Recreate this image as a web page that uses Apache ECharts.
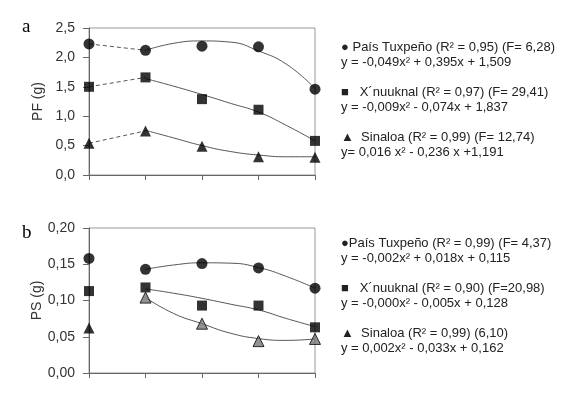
<!DOCTYPE html>
<html>
<head>
<meta charset="utf-8">
<script src="https://cdn.jsdelivr.net/npm/echarts@6/dist/echarts.min.js"></script>
<style>
  html, body { margin: 0; padding: 0; background: #fff; }
  #chart { width: 578px; height: 394px; }
</style>
</head>
<body>
<div id="chart"></div>
<script>
// x positions of the five sampling points (no labels on the axis)
const xPos = [1, 2, 3, 4, 5]
const fitX = [2, 2.5, 3, 3.5, 4, 4.5, 5]

// panel a: PF (g)
const pfTuxpeno = [2.23, 2.12, 2.19, 2.18, 1.46]
const pfXnuuknal = [1.50, 1.66, 1.29, 1.11, 0.58]
const pfSinaloa = [0.54, 0.75, 0.49, 0.31, 0.30]
// fitted curves
const pfTuxpenoFit = [2.12, 2.24, 2.28, 2.26, 2.11, 1.88, 1.47]
const pfXnuuknalFit = [1.64, 1.51, 1.37, 1.22, 1.07, 0.84, 0.58]
const pfSinaloaFit = [0.76, 0.63, 0.50, 0.40, 0.34, 0.31, 0.31]

// panel b: PS (g)
const psTuxpeno = [0.158, 0.143, 0.151, 0.145, 0.117]
const psXnuuknal = [0.113, 0.118, 0.093, 0.093, 0.063]
const psSinaloa = [0.062, 0.104, 0.068, 0.044, 0.047]
const psTuxpenoFit = [0.143, 0.149, 0.152, 0.1515, 0.1455, 0.133, 0.117]
const psXnuuknalFit = [0.116, 0.110, 0.103, 0.095, 0.087, 0.075, 0.064]
const psSinaloaFit = [0.104, 0.082, 0.068, 0.055, 0.0475, 0.045, 0.047]

const legendA = [
  '● País Tuxpeño (R² = 0,95) (F= 6,28)',
  'y = -0,049x² + 0,395x + 1,509',
  '■   X´nuuknal (R² = 0,97) (F= 29,41)',
  'y = -0,009x² - 0,074x + 1,837',
  '▲  Sinaloa (R² = 0,99) (F= 12,74)',
  'y= 0,016 x² - 0,236 x +1,191'
]
const legendB = [
  '●País Tuxpeño (R² = 0,99) (F= 4,37)',
  'y = -0,002x² + 0,018x + 0,115',
  '■   X´nuuknal (R² = 0,90) (F=20,98)',
  'y = -0,000x² - 0,005x + 0,128',
  '▲  Sinaloa (R² = 0,99) (6,10)',
  'y = 0,002x² - 0,033x + 0,162'
]

const pair = (xs, ys) => ys.map((v, i) => [xs[i], v])
const FONT = 'Liberation Sans, Arial, sans-serif'

const chart = echarts.init(document.getElementById('chart'))

function xAxisFor(gridIndex) {
  return {
    type: 'value', gridIndex, min: 1, max: 5, interval: 1,
    axisLine: { onZero: false, lineStyle: { color: '#666', width: 1 } },
    axisTick: { show: true, length: 5, lineStyle: { color: '#666' } },
    axisLabel: { show: false },
    splitLine: { show: false }
  }
}

function yAxisFor(gridIndex, max, interval, digits, name) {
  return {
    type: 'value', gridIndex, min: 0, max, interval,
    name, nameLocation: 'middle', nameGap: 44, nameRotate: 90,
    nameTextStyle: { fontFamily: FONT, fontSize: 14, color: '#333' },
    axisLine: { show: true, lineStyle: { color: '#666', width: 1 } },
    axisTick: { show: true, length: 6, lineStyle: { color: '#666' } },
    axisLabel: {
      fontFamily: FONT, fontSize: 14, color: '#333', margin: 14,
      formatter: v => v.toFixed(digits).replace('.', ',')
    },
    splitLine: { show: false }
  }
}

function points(idx, data, symbol, size, color, border) {
  return {
    type: 'scatter', xAxisIndex: idx, yAxisIndex: idx, data,
    symbol, symbolSize: size, z: 5,
    itemStyle: { color, borderColor: border || color, borderWidth: border ? 1 : 0 }
  }
}

function curve(idx, data, dashed) {
  return {
    type: 'line', xAxisIndex: idx, yAxisIndex: idx, data,
    smooth: !dashed, showSymbol: false, symbol: 'none', z: 3,
    lineStyle: { color: '#555', width: 1, type: dashed ? [4, 3] : 'solid' }
  }
}

function textLines(lines, top) {
  const offsets = [0, 15, 45, 60, 90, 105]
  return lines.map((t, i) => ({
    type: 'text', left: 341, top: top + offsets[i],
    style: { text: t, fontFamily: FONT, fontSize: 13, fill: '#222' }
  }))
}

const option = {
  animation: false,
  grid: [
    { left: 89, top: 28, width: 226, height: 147, show: true, borderColor: '#999', borderWidth: 1 },
    { left: 89, top: 228, width: 226, height: 145, show: true, borderColor: '#999', borderWidth: 1 }
  ],
  xAxis: [xAxisFor(0), xAxisFor(1)],
  yAxis: [
    yAxisFor(0, 2.5, 0.5, 1, 'PF (g)'),
    yAxisFor(1, 0.2, 0.05, 2, 'PS (g)')
  ],
  series: [
    // panel a
    curve(0, pair(xPos.slice(0, 2), pfTuxpeno.slice(0, 2)), true),
    curve(0, pair(xPos.slice(0, 2), pfXnuuknal.slice(0, 2)), true),
    curve(0, pair(xPos.slice(0, 2), pfSinaloa.slice(0, 2)), true),
    curve(0, pair(fitX, pfTuxpenoFit)),
    curve(0, pair(fitX, pfXnuuknalFit)),
    curve(0, pair(fitX, pfSinaloaFit)),
    points(0, pair(xPos, pfTuxpeno), 'circle', 11, '#000'),
    points(0, pair(xPos, pfXnuuknal), 'rect', 10, '#000'),
    points(0, pair(xPos, pfSinaloa), 'triangle', 11, '#000'),
    // panel b
    curve(1, pair(fitX, psTuxpenoFit)),
    curve(1, pair(fitX, psXnuuknalFit)),
    curve(1, pair(fitX, psSinaloaFit)),
    points(1, pair(xPos, psTuxpeno), 'circle', 11, '#000'),
    points(1, pair(xPos, psXnuuknal), 'rect', 10, '#000'),
    points(1, pair(xPos.slice(0, 1), psSinaloa.slice(0, 1)), 'triangle', 11, '#000'),
    points(1, pair(xPos.slice(1), psSinaloa.slice(1)), 'triangle', 11, '#777', '#000')
  ],
  graphic: [
    { type: 'text', left: 22, top: 18, style: { text: 'a', fontFamily: 'Liberation Serif, serif', fontSize: 19, fill: '#000' } },
    { type: 'text', left: 22, top: 224, style: { text: 'b', fontFamily: 'Liberation Serif, serif', fontSize: 19, fill: '#000' } },
    ...textLines(legendA, 41),
    ...textLines(legendB, 237)
  ]
}

chart.setOption(option)
</script>
</body>
</html>
